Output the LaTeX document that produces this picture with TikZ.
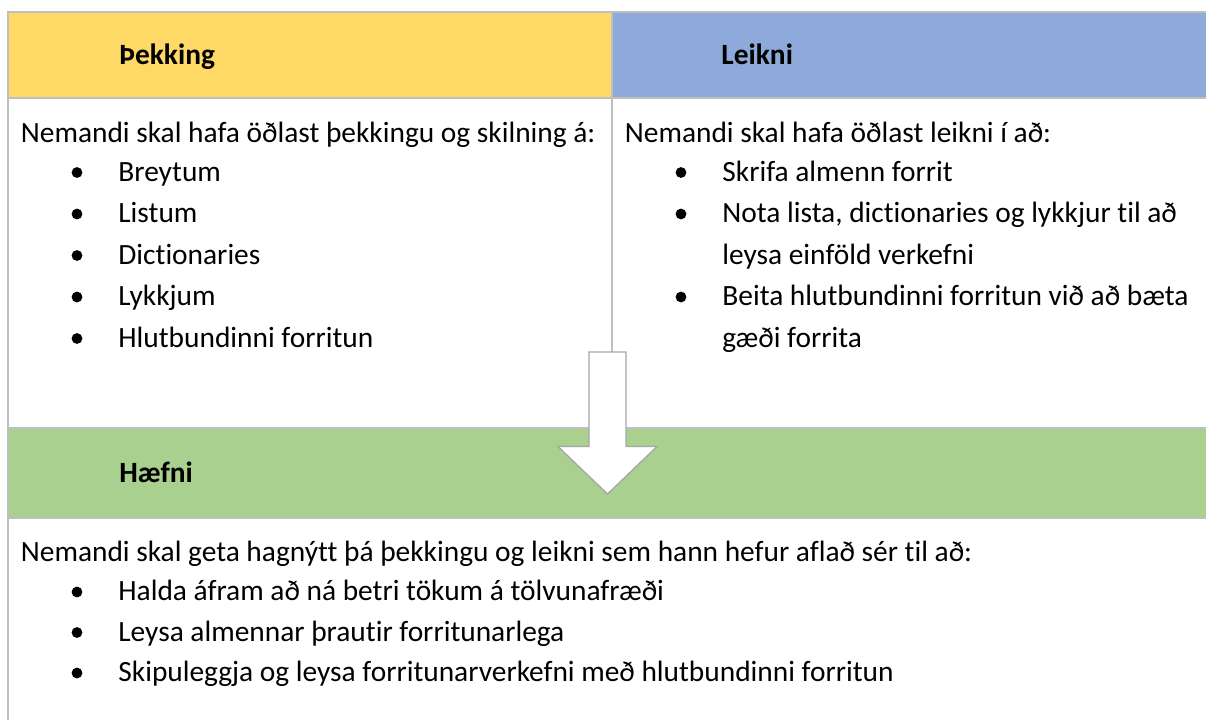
\documentclass[tikz,border=0pt]{standalone}
\usepackage{fontspec}
\setmainfont{Carlito}[Ligatures=NoCommon]
\usepackage{tikz}

\definecolor{Jaune}{HTML}{FFD966}
\definecolor{Bleu}{HTML}{8EAADB}
\definecolor{Vert}{HTML}{A9D08E}
\definecolor{Cadre}{HTML}{BFBFBF}
\definecolor{Fleche}{HTML}{A6A6A6}

\begin{document}
\begin{tikzpicture}[x=0.5pt,y=-0.5pt,
	texte/.style={anchor=base west,inner sep=0pt,font=\fontsize{14.7pt}{17pt}\selectfont},
	titre/.style={anchor=base west,inner sep=0pt,font=\fontsize{14.7pt}{17pt}\selectfont\bfseries},
	puce/.style={circle,fill=black,inner sep=0pt,minimum size=5.4pt},
	cadre/.style={draw=Cadre,line width=0.65pt}]
	%
	% Limites du tableau
	\def\tabXmin{8}
	\def\tabXmid{612}
	\def\tabXmax{1206}
	\def\tabYmin{12}
	\def\tabYmax{720}
	\useasboundingbox (0,0) rectangle (1206,720);
	%
	% Bandeaux de couleur
	\fill[Jaune] (\tabXmin,\tabYmin) rectangle (\tabXmid,98);
	\fill[Bleu] (\tabXmid,\tabYmin) rectangle (\tabXmax,98);
	\fill[Vert] (\tabXmin,428) rectangle (\tabXmax,518);
	%
	% Traits du tableau
	\draw[cadre] (\tabXmin,\tabYmax) -- (\tabXmin,\tabYmin) -- (\tabXmax,\tabYmin);
	\draw[cadre] (\tabXmin,98) -- (\tabXmax,98);
	\draw[cadre] (\tabXmin,428) -- (\tabXmax,428);
	\draw[cadre] (\tabXmin,518) -- (\tabXmax,518);
	\draw[cadre] (\tabXmid,\tabYmin) -- (\tabXmid,428);
	%
	% Titres
	\node[titre] (thekking) at (119,64) {Þekking};
	\node[titre] (leikni) at (721,64) {Leikni};
	\node[titre] (haefni) at (119,482.5) {Hæfni};
	%
	% Colonne de gauche
	\node[texte] (introA) at (20.5,142.5) {Nemandi skal hafa öðlast þekkingu og skilning á:};
	\foreach \y/\t [count=\i] in {181/Breytum,222.5/Listum,264/Dictionaries,305.5/Lykkjum,347/Hlutbundinni forritun}{
		\node[puce] (puceA\i) at (77,\y-8.5) {};
		\node[texte] (itemA\i) at (118,\y) {\t};
	}
	%
	% Colonne de droite
	\node[texte] (introB) at (624.5,142.5) {Nemandi skal hafa öðlast leikni í að:};
	\foreach \y/\t [count=\i] in {181/Skrifa almenn forrit,222.5/{Nota lista, dictionaries og lykkjur til að},305.5/Beita hlutbundinni forritun við að bæta}{
		\node[puce] (puceB\i) at (681,\y-8.5) {};
		\node[texte] (itemB\i) at (722,\y) {\t};
	}
	\node[texte] (suiteB2) at (722,264) {leysa einföld verkefni};
	\node[texte] (suiteB3) at (722,347) {gæði forrita};
	%
	% Ligne du bas
	\node[texte] (introC) at (20.5,561.5) {Nemandi skal geta hagnýtt þá þekkingu og leikni sem hann hefur aflað sér til að:};
	\foreach \y/\t [count=\i] in {600.5/Halda áfram að ná betri tökum á tölvunafræði,641/Leysa almennar þrautir forritunarlega,681.5/Skipuleggja og leysa forritunarverkefni með hlutbundinni forritun}{
		\node[puce] (puceC\i) at (77,\y-8.5) {};
		\node[texte] (itemC\i) at (118,\y) {\t};
	}
	%
	% Flèche
	\draw[fill=white,draw=Fleche,line width=0.65pt,line join=miter] (589,352) -- (626,352) -- (626,446.5) -- (657,446.5) -- (607.5,494) -- (558,446.5) -- (589,446.5) -- cycle;
\end{tikzpicture}
\end{document}
